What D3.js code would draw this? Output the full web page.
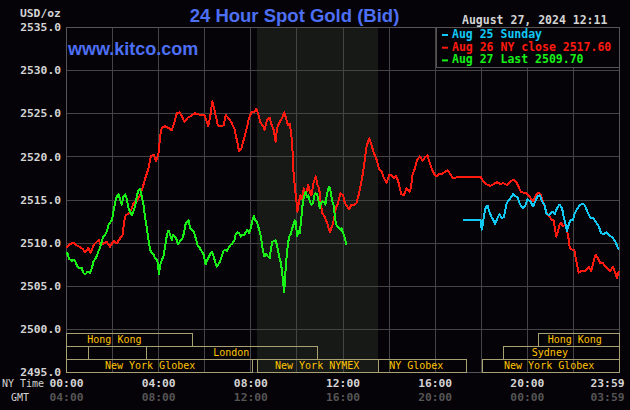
<!DOCTYPE html>
<html>
<head>
<meta charset="utf-8">
<script src="https://cdn.jsdelivr.net/npm/d3@7"></script>
<style>
    body { margin: 0; background: #050308; }
    svg { display: block; }
</style>
</head>
<body>
<div id="chart"></div>
<script>
// Aug 25 Sunday (blue) - [NY hour, price]
const aug25Sunday = [[17.24,2512.6],[18.0,2512.6],[18.04,2511.5],[18.09,2512.1],[18.14,2513.2],[18.23,2514.2],[18.30,2514.3],[18.37,2513.6],[18.46,2513.0],[18.55,2512.6],[18.62,2512.1],[18.72,2512.8],[18.81,2513.3],[18.91,2512.8],[19.01,2513.0],[19.13,2514.6],[19.25,2515.0],[19.40,2515.6],[19.50,2515.4],[19.60,2515.2],[19.71,2514.4],[19.83,2514.0],[19.93,2514.3],[20.03,2515.0],[20.15,2514.8],[20.27,2514.2],[20.37,2514.8],[20.47,2515.4],[20.56,2515.5],[20.66,2514.8],[20.76,2514.4],[20.85,2513.4],[20.95,2513.2],[21.05,2513.4],[21.13,2513.6],[21.21,2513.3],[21.31,2514.0],[21.42,2514.4],[21.53,2514.0],[21.60,2513.0],[21.67,2512.3],[21.74,2511.3],[21.82,2512.1],[21.89,2512.6],[22.00,2512.6],[22.08,2513.4],[22.18,2513.9],[22.29,2514.3],[22.40,2514.5],[22.50,2514.4],[22.58,2513.9],[22.69,2513.2],[22.79,2512.8],[22.90,2512.8],[23.02,2512.3],[23.12,2511.9],[23.22,2511.1],[23.34,2511.0],[23.45,2511.2],[23.55,2510.9],[23.66,2510.7],[23.74,2510.5],[23.84,2510.1],[23.95,2509.4],[23.99,2509.2]];

// Aug 26 NY close (red)
const aug26Close = [[0,2509.4],[0.17,2509.8],[0.32,2510.0],[0.46,2509.7],[0.61,2509.5],[0.75,2509.2],[0.83,2508.9],[0.97,2509.4],[1.07,2508.8],[1.19,2509.7],[1.33,2510.1],[1.42,2510.3],[1.51,2509.7],[1.62,2509.9],[1.77,2510.1],[1.91,2509.5],[2.06,2510.2],[2.20,2509.9],[2.35,2510.5],[2.46,2510.9],[2.52,2512.4],[2.59,2513.2],[2.71,2513.3],[2.83,2513.8],[2.93,2514.6],[3.07,2514.8],[3.22,2515.5],[3.36,2516.7],[3.48,2517.8],[3.58,2518.6],[3.68,2520.0],[3.80,2520.2],[3.91,2519.4],[4.01,2520.2],[4.09,2522.5],[4.16,2523.3],[4.30,2523.5],[4.45,2523.3],[4.59,2523.0],[4.71,2524.0],[4.81,2525.0],[4.93,2525.1],[5.04,2524.6],[5.14,2524.0],[5.29,2524.5],[5.43,2524.7],[5.58,2525.0],[5.72,2524.9],[5.87,2524.8],[6.01,2524.8],[6.09,2524.2],[6.17,2523.5],[6.26,2524.6],[6.35,2526.4],[6.41,2525.8],[6.49,2524.8],[6.59,2523.6],[6.74,2523.5],[6.84,2523.6],[6.93,2524.8],[7.03,2524.5],[7.17,2524.0],[7.32,2523.1],[7.43,2521.7],[7.51,2520.6],[7.61,2520.9],[7.71,2521.9],[7.83,2523.1],[7.94,2524.4],[8.04,2525.1],[8.19,2525.2],[8.26,2525.5],[8.33,2525.0],[8.43,2524.0],[8.55,2523.5],[8.62,2523.1],[8.72,2524.2],[8.84,2524.5],[8.93,2523.6],[9.01,2523.1],[9.10,2521.7],[9.16,2523.3],[9.28,2524.0],[9.39,2524.5],[9.48,2525.1],[9.57,2524.2],[9.64,2523.6],[9.71,2523.8],[9.78,2522.5],[9.83,2520.6],[9.88,2517.9],[9.94,2516.3],[10.0,2514.8],[10.04,2513.6],[10.12,2514.8],[10.17,2515.5],[10.23,2515.1],[10.32,2516.3],[10.41,2515.5],[10.51,2516.7],[10.58,2515.9],[10.65,2515.5],[10.75,2517.0],[10.84,2517.7],[10.91,2516.7],[10.99,2516.3],[11.04,2514.8],[11.13,2513.4],[11.23,2513.0],[11.33,2512.3],[11.45,2511.2],[11.57,2512.1],[11.64,2512.8],[11.71,2514.0],[11.81,2514.6],[11.91,2515.7],[12.03,2515.5],[12.10,2514.6],[12.20,2514.2],[12.29,2513.9],[12.39,2514.4],[12.49,2514.3],[12.61,2514.6],[12.72,2515.7],[12.84,2517.3],[12.94,2519.0],[13.04,2521.1],[13.16,2522.1],[13.26,2521.3],[13.36,2520.4],[13.48,2519.6],[13.58,2518.6],[13.70,2518.2],[13.80,2517.5],[13.91,2516.9],[14.03,2517.9],[14.13,2517.8],[14.25,2517.5],[14.32,2517.7],[14.42,2517.1],[14.49,2516.3],[14.56,2515.6],[14.66,2515.5],[14.78,2516.3],[14.90,2515.9],[14.97,2516.3],[15.04,2517.9],[15.14,2518.6],[15.24,2519.6],[15.36,2520.0],[15.48,2519.5],[15.58,2519.9],[15.69,2520.1],[15.77,2519.4],[15.87,2518.6],[15.97,2518.0],[16.08,2517.7],[16.20,2518.0],[16.34,2518.0],[16.45,2518.2],[16.55,2518.4],[16.66,2518.0],[16.78,2517.5],[16.88,2517.5],[17.0,2517.6],[18.0,2517.6],[18.09,2517.2],[18.19,2516.9],[18.29,2516.7],[18.41,2516.6],[18.52,2516.7],[18.62,2516.9],[18.72,2517.0],[18.84,2516.8],[18.98,2516.9],[19.13,2516.7],[19.28,2517.1],[19.42,2517.3],[19.54,2517.0],[19.64,2516.5],[19.74,2515.9],[19.86,2515.8],[19.98,2515.7],[20.08,2515.5],[20.18,2515.1],[20.27,2514.8],[20.37,2515.3],[20.44,2515.7],[20.53,2515.8],[20.61,2515.5],[20.70,2514.8],[20.79,2514.0],[20.87,2513.4],[20.99,2513.0],[21.09,2512.6],[21.16,2512.6],[21.24,2511.3],[21.28,2510.7],[21.35,2511.3],[21.42,2512.1],[21.48,2512.3],[21.57,2511.9],[21.67,2512.1],[21.74,2511.5],[21.82,2510.3],[21.86,2509.4],[21.96,2509.2],[22.06,2509.2],[22.15,2507.8],[22.25,2506.5],[22.35,2506.7],[22.47,2506.7],[22.58,2506.8],[22.69,2507.2],[22.79,2506.7],[22.88,2507.6],[22.98,2508.6],[23.08,2508.2],[23.19,2507.6],[23.31,2507.6],[23.41,2507.2],[23.51,2507.0],[23.62,2506.7],[23.74,2507.2],[23.84,2506.5],[23.91,2505.9],[23.99,2506.7]];

// Aug 27 last (green)
const aug27Last = [[0,2508.6],[0.06,2508.8],[0.14,2508.1],[0.25,2507.9],[0.35,2508.0],[0.43,2507.7],[0.49,2507.2],[0.58,2507.0],[0.68,2507.1],[0.75,2506.5],[0.83,2506.3],[0.93,2506.6],[1.04,2506.5],[1.12,2507.0],[1.19,2507.8],[1.26,2508.1],[1.33,2508.4],[1.41,2509.0],[1.48,2509.4],[1.55,2510.1],[1.62,2510.7],[1.70,2510.9],[1.77,2511.3],[1.84,2512.0],[1.91,2512.3],[1.99,2512.6],[2.06,2513.6],[2.13,2514.6],[2.20,2515.3],[2.28,2515.6],[2.35,2515.0],[2.42,2514.4],[2.49,2515.3],[2.57,2515.6],[2.64,2515.1],[2.71,2514.0],[2.78,2513.6],[2.86,2513.2],[2.93,2513.7],[3.0,2514.2],[3.07,2515.3],[3.14,2516.1],[3.22,2516.2],[3.29,2515.3],[3.36,2514.4],[3.43,2513.0],[3.51,2511.7],[3.58,2510.3],[3.65,2509.2],[3.72,2508.8],[3.80,2508.6],[3.87,2508.2],[3.94,2508.0],[3.99,2507.6],[4.03,2506.3],[4.09,2507.4],[4.16,2508.0],[4.23,2508.4],[4.30,2509.5],[4.38,2510.9],[4.45,2511.4],[4.52,2510.9],[4.59,2510.3],[4.64,2510.9],[4.71,2510.7],[4.78,2510.5],[4.86,2509.8],[4.93,2510.1],[5.05,2510.5],[5.12,2511.1],[5.18,2512.1],[5.25,2512.4],[5.32,2512.6],[5.39,2511.7],[5.48,2511.4],[5.55,2511.3],[5.63,2510.5],[5.71,2509.7],[5.80,2509.4],[5.89,2509.0],[5.97,2508.6],[6.06,2507.5],[6.13,2508.0],[6.21,2508.4],[6.28,2508.8],[6.35,2508.9],[6.41,2508.4],[6.47,2507.8],[6.54,2507.2],[6.61,2507.5],[6.68,2507.8],[6.76,2508.4],[6.83,2509.0],[6.90,2509.2],[6.99,2509.0],[7.06,2509.4],[7.13,2509.7],[7.22,2509.9],[7.31,2510.3],[7.36,2510.9],[7.44,2511.2],[7.51,2511.1],[7.58,2510.7],[7.65,2510.9],[7.73,2510.9],[7.80,2511.2],[7.87,2511.5],[7.94,2511.1],[8.02,2511.7],[8.09,2512.6],[8.15,2513.1],[8.22,2512.6],[8.29,2512.4],[8.36,2511.7],[8.44,2510.9],[8.50,2509.9],[8.55,2509.0],[8.61,2508.4],[8.68,2508.7],[8.76,2508.4],[8.84,2508.2],[8.90,2509.4],[8.96,2510.1],[9.03,2510.2],[9.10,2510.3],[9.18,2509.4],[9.25,2508.4],[9.31,2507.8],[9.36,2507.0],[9.42,2505.5],[9.47,2504.3],[9.51,2506.0],[9.56,2508.0],[9.62,2509.5],[9.68,2510.7],[9.74,2510.9],[9.80,2511.5],[9.85,2511.9],[9.93,2512.6],[9.97,2512.4],[10.03,2510.7],[10.09,2511.3],[10.14,2511.1],[10.20,2512.4],[10.25,2514.0],[10.29,2514.8],[10.35,2515.5],[10.41,2515.9],[10.46,2515.3],[10.52,2515.5],[10.58,2514.8],[10.65,2514.4],[10.72,2514.6],[10.78,2515.5],[10.84,2515.7],[10.90,2515.6],[10.96,2514.8],[11.01,2514.0],[11.07,2514.6],[11.13,2514.8],[11.19,2514.7],[11.26,2514.4],[11.32,2515.5],[11.38,2516.3],[11.43,2516.5],[11.49,2515.9],[11.55,2514.8],[11.61,2514.4],[11.67,2513.0],[11.72,2512.1],[11.78,2511.9],[11.84,2511.7],[11.90,2511.5],[11.96,2511.7],[12.0,2511.3],[12.06,2510.9],[12.12,2510.3],[12.18,2509.7]];

const yTicks = [2495, 2500, 2505, 2510, 2515, 2520, 2525, 2530, 2535];
const gridHours = [2, 4, 6, 8, 10, 12, 14, 16, 18, 20, 22];
const timeTicks = [0, 4, 8, 12, 16, 20, 24];
const nyTimeLabels = ["00:00", "04:00", "08:00", "12:00", "16:00", "20:00", "23:59"];
const gmtLabels = ["04:00", "08:00", "12:00", "16:00", "20:00", "00:00", "03:59"];

// NYMEX pit hours (shaded)
const nymexHours = [8.29, 13.54];

// trading sessions: row 0 = top
const sessions = [
    { name: "Hong Kong",       row: 0, start: 0,     end: 5.47,  mid: 2.1 },
    { name: "Hong Kong",       row: 0, start: 20.48, end: 24,    mid: 22.08 },
    { name: "",                row: 1, start: 0,     end: 0.96,  mid: 0.5 },
    { name: "London",          row: 1, start: 3.48,  end: 10.9,  mid: 7.17 },
    { name: "Sydney",          row: 1, start: 18.98, end: 24,    mid: 21.0 },
    { name: "New York Globex", row: 2, start: 0,     end: 8.06,  mid: 3.65 },
    { name: "New York NYMEX",  row: 2, start: 8.29,  end: 13.54, mid: 10.9 },
    { name: "NY Globex",       row: 2, start: 13.54, end: 17.35, mid: 15.2 },
    { name: "New York Globex", row: 2, start: 18.04, end: 24,    mid: 20.97 }
];

const legendItems = [
    { label: "Aug 25 Sunday",           color: "#12c8f5" },
    { label: "Aug 26 NY close 2517.60", color: "#ff1a10" },
    { label: "Aug 27 Last 2509.70",     color: "#18f018" }
];

const width = 630, height = 410;
const plot = { left: 66, right: 619, top: 27, bottom: 372 };
const mono = "'DejaVu Sans Mono', monospace";
const sans = "'Liberation Sans', Arial, sans-serif";
const bg = "#050308";

const svg = d3.select("#chart").append("svg")
    .attr("width", width)
    .attr("height", height);

svg.append("rect")
    .attr("width", width)
    .attr("height", height)
    .attr("fill", bg);

const x = d3.scaleLinear().domain([0, 24]).range([plot.left, plot.right]);
const y = d3.scaleLinear().domain([2495, 2535]).range([plot.bottom, plot.top]);

// NYMEX shade
svg.append("rect")
    .attr("x", x(nymexHours[0]))
    .attr("y", plot.top)
    .attr("width", x(nymexHours[1]) - x(nymexHours[0]))
    .attr("height", plot.bottom - plot.top)
    .attr("fill", "#161915");

// grid
const hGrid = svg.append("g")
    .attr("transform", `translate(${plot.left},0)`)
    .call(d3.axisLeft(y).tickValues(yTicks.slice(1, -1)).tickSize(-(plot.right - plot.left)).tickFormat(""));
const vGrid = svg.append("g")
    .attr("transform", `translate(0,${plot.bottom})`)
    .call(d3.axisBottom(x).tickValues(gridHours).tickSize(-(plot.bottom - plot.top)).tickFormat(""));
[hGrid, vGrid].forEach(g => {
    g.select(".domain").remove();
    g.selectAll("line").attr("stroke", "#444").attr("stroke-width", 1).attr("shape-rendering", "crispEdges");
});

svg.append("rect")
    .attr("x", plot.left + 0.5)
    .attr("y", plot.top + 0.5)
    .attr("width", plot.right - plot.left)
    .attr("height", plot.bottom - plot.top)
    .attr("fill", "none")
    .attr("stroke", "#555")
    .attr("shape-rendering", "crispEdges");

// session boxes
const rowH = 13;
const rowTop = r => plot.bottom - (3 - r) * rowH;

svg.append("g").selectAll("rect")
    .data(sessions)
    .enter()
    .append("rect")
    .attr("x", d => Math.round(x(d.start)) + 0.5)
    .attr("y", d => rowTop(d.row) + 0.5)
    .attr("width", d => Math.round(x(d.end)) - Math.round(x(d.start)))
    .attr("height", rowH)
    .attr("fill", "none")
    .attr("stroke", "#a8a272")
    .attr("shape-rendering", "crispEdges");

svg.append("g").selectAll("text")
    .data(sessions)
    .enter()
    .append("text")
    .attr("x", d => x(d.mid))
    .attr("y", d => rowTop(d.row) + 10)
    .attr("text-anchor", "middle")
    .attr("fill", "#ffc400")
    .attr("font-family", mono)
    .attr("font-size", "10px")
    .text(d => d.name);

// price lines (aliased, like the original bitmap chart)
const line = d3.line()
    .x(d => x(d[0]))
    .y(d => y(d[1]));

[[aug26Close, legendItems[1].color], [aug25Sunday, legendItems[0].color], [aug27Last, legendItems[2].color]]
    .forEach(([data, color]) => {
        svg.append("path")
            .datum(data)
            .attr("d", line)
            .attr("fill", "none")
            .attr("stroke", color)
            .attr("stroke-width", 2)
            .attr("stroke-linejoin", "round")
            .attr("shape-rendering", "crispEdges");
    });

// y axis labels
const yAxis = svg.append("g")
    .attr("transform", `translate(${plot.left},0)`)
    .call(d3.axisLeft(y).tickValues(yTicks).tickFormat(d3.format(".1f")).tickSize(0).tickPadding(5));
yAxis.select(".domain").remove();
yAxis.selectAll("text")
    .attr("fill", "#d4d4d4")
    .attr("font-family", mono)
    .attr("font-weight", "bold")
    .attr("font-size", "11.3px");

// x axis labels (NY time and GMT)
function timeRow(labels, yPos, color) {
    const g = svg.append("g")
        .attr("transform", `translate(0,${yPos})`)
        .call(d3.axisBottom(x).tickValues(timeTicks).tickFormat((d, i) => labels[i]).tickSize(0));
    g.select(".domain").remove();
    g.selectAll("text")
        .attr("y", 0)
        .attr("dy", 0)
        .attr("fill", color)
        .attr("font-family", mono)
        .attr("font-weight", "bold")
        .attr("font-size", "11.3px");
    g.selectAll("text").filter(d => d === 24)
        .attr("text-anchor", "end")
        .attr("x", 5);
}
timeRow(nyTimeLabels, 387, "#d4d4d4");
timeRow(gmtLabels, 401, "#555");

svg.append("text")
    .attr("x", 2).attr("y", 387)
    .attr("fill", "#d4d4d4")
    .attr("font-family", mono)
    .attr("font-size", "10px")
    .text("NY Time");
svg.append("text")
    .attr("x", 11).attr("y", 401)
    .attr("fill", "#d4d4d4")
    .attr("font-family", mono)
    .attr("font-size", "10px")
    .text("GMT");

svg.append("text")
    .attr("x", 20).attr("y", 17)
    .attr("fill", "#d4d4d4")
    .attr("font-family", mono)
    .attr("font-weight", "bold")
    .attr("font-size", "11.3px")
    .text("USD/oz");

// title & site
svg.append("text")
    .attr("x", 294.5).attr("y", 21.5)
    .attr("text-anchor", "middle")
    .attr("fill", "#4d6ff4")
    .attr("font-family", sans)
    .attr("font-weight", "bold")
    .attr("font-size", "18.5px")
    .text("24 Hour Spot Gold (Bid)");

svg.append("text")
    .attr("x", 68).attr("y", 55)
    .attr("fill", "#4d6ff4")
    .attr("font-family", sans)
    .attr("font-weight", "bold")
    .attr("font-size", "18px")
    .text("www.kitco.com");

svg.append("text")
    .attr("x", 462).attr("y", 24)
    .attr("fill", "#d4d4d4")
    .attr("font-family", mono)
    .attr("font-weight", "bold")
    .attr("font-size", "11.5px")
    .text("August 27, 2024 12:11");

// legend
const legend = svg.append("g");
legend.append("rect")
    .attr("x", 436.5).attr("y", plot.top + 0.5)
    .attr("width", plot.right - 436).attr("height", 40)
    .attr("fill", bg)
    .attr("stroke", "#555")
    .attr("shape-rendering", "crispEdges");

const legendItem = legend.selectAll("g.item")
    .data(legendItems)
    .enter()
    .append("g")
    .attr("class", "item")
    .attr("transform", (d, i) => `translate(0,${38 + i * 12.7})`);

legendItem.append("rect")
    .attr("x", 442).attr("y", -4)
    .attr("width", 6).attr("height", 2)
    .attr("fill", d => d.color);

legendItem.append("text")
    .attr("x", 452)
    .attr("fill", d => d.color)
    .attr("font-family", mono)
    .attr("font-weight", "bold")
    .attr("font-size", "11.5px")
    .text(d => d.label);
</script>
</body>
</html>
